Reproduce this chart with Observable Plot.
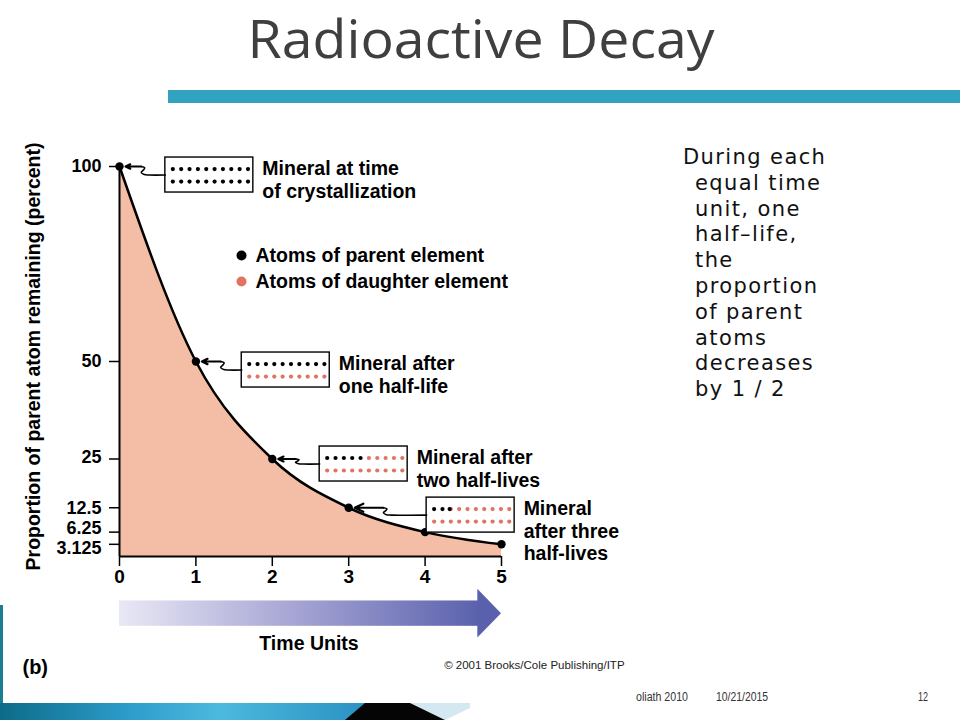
<!DOCTYPE html>
<html><head><meta charset="utf-8">
<script src="https://cdn.jsdelivr.net/npm/d3@7"></script>
<script src="https://cdn.jsdelivr.net/npm/@observablehq/plot@0.6"></script>
<style>
body{margin:0;background:#fff;width:960px;height:720px;overflow:hidden;position:relative}
#deco,#chart{position:absolute;left:0;top:0}
#deco{z-index:2;pointer-events:none}
#chart{z-index:1}
</style></head><body>
<div id="chart"></div>
<svg id="deco" width="960" height="720" xmlns="http://www.w3.org/2000/svg">
  <defs>
    <linearGradient id="band" x1="0" x2="1" y1="0" y2="0">
      <stop offset="0" stop-color="#0c6b88"/>
      <stop offset="0.35" stop-color="#2d9ccb"/>
      <stop offset="0.6" stop-color="#4cb9de"/>
      <stop offset="1" stop-color="#2b92c2"/>
    </linearGradient>
  </defs>
  <text x="481" y="57.5" text-anchor="middle" font-family="Open Sans" font-size="53" fill="#3f3f3f" textLength="467" lengthAdjust="spacingAndGlyphs">Radioactive Decay</text>
  <rect x="168" y="90" width="792" height="13" fill="#31a2bf"/>
  <rect x="0" y="605" width="3" height="98" fill="#1a7d93"/>
  <rect x="0" y="703" width="365" height="17" fill="url(#band)"/>
  <polygon points="410,703 470,703 470,708 445,720" fill="#d3e8f1"/>
  <polygon points="345,720 365,703 410,703 445,720" fill="#050505"/>
  <g id="sidetext" font-family="DejaVu Sans" font-size="21" fill="#111" letter-spacing="1.4"></g>
  <text x="636" y="701" font-family="Liberation Sans" font-size="12" fill="#333" textLength="52" lengthAdjust="spacingAndGlyphs">oliath 2010</text>
  <text x="716" y="701" font-family="Liberation Sans" font-size="12" fill="#333" textLength="52" lengthAdjust="spacingAndGlyphs">10/21/2015</text>
  <text x="918" y="701" font-family="Liberation Sans" font-size="12" fill="#333" textLength="10" lengthAdjust="spacingAndGlyphs">12</text>
</svg>
<script>
// ---- data ----
const times = [0, 1, 2, 3, 4, 5];
const percents = [100, 50, 25, 12.5, 6.25, 3.125];
const yTickValues = [100, 50, 25, 12.5, 6.25, 3.125];
const yTickLabels = ["100", "50", "25", "12.5", "6.25", "3.125"];
const xTickValues = [0, 1, 2, 3, 4, 5];
const mineralLabels = ["Mineral at time\nof crystallization", "Mineral after\none half-life", "Mineral after\ntwo half-lives", "Mineral\nafter three\nhalf-lives"];
const mineralStep = [0, 1, 2, 3];
const parentRow1 = [10, 10, 5, 2.5];
const parentRow2 = [10, 0, 0, 0];
const legendLabels = ["Atoms of parent element", "Atoms of daughter element"];
const legendColors = ["#000000", "#e07362"];
const sideLines = ["During each", "equal time", "unit, one", "half–life,", "the", "proportion", "of parent", "atoms", "decreases", "by 1 / 2"];

// ---- layout ----
const W = 960, H = 720, mL = 119, mR = 459, mT = 166, mB = 164;
const ux = (W - mL - mR) / 5;    // px per time unit
const uy = (H - mT - mB) / 100;  // px per percent
const labelNudgePx = [0, 0, -2, 0, -4, 4];  // keeps the crowded low labels apart
const boxLeft = [0.60, 1.60, 2.62, 4.02];
const boxTop = [102.3, 52.3, 28.2, 15.1];
const tailX = [0.31, 1.35, 2.33, 3.48];
const boxW = 88 / ux, boxH = 35 / uy;
const parentColor = "#000000", daughterColor = "#e07362";

const points = times.map((t, i) => ({t, p: percents[i]}));
const yLabels = yTickValues.map((v, i) => ({label: yTickLabels[i], y: v - labelNudgePx[i] / uy}));
const boxes = mineralStep.map((s, k) => ({
  k, x1: boxLeft[k], x2: boxLeft[k] + boxW, y1: boxTop[k] - boxH, y2: boxTop[k],
  label: mineralLabels[k], tx: boxLeft[k] + boxW + 9 / ux, ty: boxTop[k] - 1.5 / uy,
  pt: times[s], pp: percents[s]
}));
const atoms = [];
boxes.forEach(b => {
  [0, 1].forEach(r => {
    const count = r === 0 ? parentRow1[b.k] : parentRow2[b.k];
    for (let i = 0; i < 10; i++) {
      const type = i + 1 <= count ? "parent" : (i < count ? "half" : "daughter");
      atoms.push({x: b.x1 + (7.5 + 8.35 * i) / ux, y: b.y2 - (11.5 + 12.5 * r) / uy, type});
    }
  });
});
const sq = [[6, 0], [1, 0.06], [-2, 0.32], [0.5, 0.62], [1.5, 0.85], [-2, 1]];
const squiggles = [];
boxes.forEach(b => {
  const cy = b.y2 - boxH / 2;
  squiggles.push({k: b.k, x: b.x1, y: cy});
  sq.forEach(s => squiggles.push({k: b.k, x: tailX[b.k] + s[0] / ux, y: cy + s[1] * (b.pp - cy)}));
});
const arrows = boxes.map(b => ({x1: tailX[b.k] - 2 / ux, x2: b.pt + 6 / ux, y: b.pp}));
const legend = legendLabels.map((l, i) => ({label: l, color: legendColors[i], y: 77.2 - 6.7 * i}));
const timeBody = [{x1: 0, x2: 4.7, y1: -11.4, y2: -17.9}];
const timeHead = [{x: 4.69, y1: -8.4, y2: -20.9}, {x: 5, y1: -14.65, y2: -14.65}];

const bold = {fontFamily: "Liberation Sans, Arial, sans-serif", fontWeight: "bold"};

const plot = Plot.plot({
  width: W, height: H,
  marginLeft: mL, marginRight: mR, marginTop: mT, marginBottom: mB,
  style: {background: "transparent", fontFamily: "Liberation Sans, Arial, sans-serif"},
  x: {domain: [0, 5]},
  y: {domain: [0, 100]},
  marks: [
    Plot.areaY(points, {x: "t", y: "p", curve: "monotone-x", fill: "#f3bea5"}),
    Plot.ruleX([0], {y1: 0, y2: 100, stroke: "#000", strokeWidth: 2}),
    Plot.ruleY([0], {x1: 0, x2: 5, stroke: "#000", strokeWidth: 2}),
    Plot.lineY(points, {x: "t", y: "p", curve: "monotone-x", stroke: "#000", strokeWidth: 2.5}),
    Plot.dot(points, {x: "t", y: "p", r: 4.2, fill: "#000"}),
    Plot.axisY(yTickValues, {tickSize: 10, tickPadding: 7, fontSize: 19, label: null, strokeWidth: 1.5, tickFormat: () => ""}),
    Plot.text(yLabels, {x: 0, y: "y", text: "label", dx: -18, textAnchor: "end", fontSize: 18, ...bold}),
    Plot.axisX(xTickValues, {tickSize: 10, tickPadding: 3, fontSize: 19, ...bold, label: null, strokeWidth: 1.5}),
    Plot.text(["Proportion of parent atom remaining (percent)"], {text: d => d, frameAnchor: "left", textAnchor: "middle", dx: -86, dy: -5, rotate: -90, fontSize: 19.5, ...bold}),
    // mineral boxes
    Plot.rect(boxes, {x1: "x1", x2: "x2", y1: "y1", y2: "y2", fill: "#fff", stroke: "#000", strokeWidth: 1.4}),
    Plot.dot(atoms.filter(a => a.type === "parent"), {x: "x", y: "y", r: 2.1, fill: parentColor}),
    Plot.dot(atoms.filter(a => a.type !== "parent"), {x: "x", y: "y", r: 2.1, fill: daughterColor}),
    Plot.dot(atoms.filter(a => a.type === "half"), {x: "x", y: "y", r: 2.1, dx: -1.2, fill: parentColor}),
    Plot.text(boxes, {x: "tx", y: "ty", text: "label", textAnchor: "start", lineAnchor: "top", lineHeight: 1.16, fontSize: 19.5, ...bold}),
    Plot.line(squiggles, {x: "x", y: "y", z: "k", curve: "catmull-rom", stroke: "#000", strokeWidth: 1.6}),
    Plot.arrow(arrows, {x1: "x1", x2: "x2", y1: "y", y2: "y", stroke: "#000", strokeWidth: 2.2, headLength: 12, headAngle: 50}),
    // legend
    Plot.dot(legend, {x: 1.597, y: "y", r: 5, fill: "color"}),
    Plot.text(legend, {x: 1.78, y: "y", text: "label", textAnchor: "start", fontSize: 19.5, ...bold}),
    // time arrow
    Plot.rect(timeBody, {x1: "x1", x2: "x2", y1: "y1", y2: "y2", fill: "url(#timeGrad)"}),
    Plot.area(timeHead, {x1: "x", y1: "y1", y2: "y2", fill: "#5a61ac"}),
    Plot.text(["Time Units"], {text: d => d, x: 2.48, y: -22.4, fontSize: 19.5, ...bold}),
    Plot.text(["(b)"], {text: d => d, x: -1.27, y: -28.6, textAnchor: "start", fontSize: 20, ...bold}),
    Plot.text(["© 2001 Brooks/Cole Publishing/ITP"], {text: d => d, x: 5.43, y: -28.0, fontSize: 11.5, fill: "#222"})
  ]
});
plot.insertAdjacentHTML("afterbegin",
  '<defs><linearGradient id="timeGrad" x1="0" x2="1" y1="0" y2="0">' +
  '<stop offset="0" stop-color="#e9e8f5"/><stop offset="0.5" stop-color="#a4a3d3"/><stop offset="1" stop-color="#5b62ad"/>' +
  '</linearGradient></defs>');
document.getElementById("chart").appendChild(plot);

// side text
const g = document.getElementById("sidetext");
sideLines.forEach((line, i) => {
  const t = document.createElementNS("http://www.w3.org/2000/svg", "text");
  t.setAttribute("x", i === 0 ? 683 : 695);
  t.setAttribute("y", 164 + 25.8 * i);
  t.textContent = line;
  g.appendChild(t);
});
</script>
</body></html>
